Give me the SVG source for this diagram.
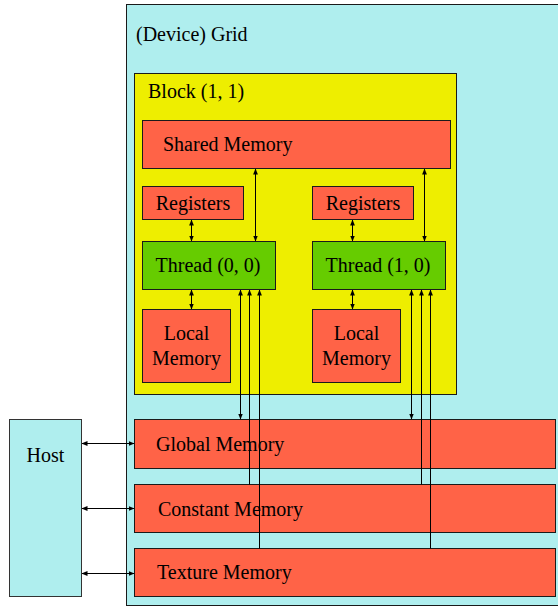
<svg xmlns="http://www.w3.org/2000/svg" width="558" height="608" viewBox="0 0 558 608">
  <style>
    .box { stroke: #1a1a1a; stroke-width: 1; }
    .grid { fill: #afeeee; }
    .block { fill: #eeee00; }
    .mem { fill: #ff6347; }
    .thr { fill: #66cc00; }
    .host { fill: #afeeee; stroke: #333; }
    text { font-family: "Liberation Serif", "Times New Roman", serif; font-size: 20px; fill: #000; }
    .c { text-anchor: middle; }
    .link { stroke: #000; stroke-width: 1; fill: none; }
  </style>
  <defs>
    <marker id="ah" viewBox="0 0 6 6" refX="5.5" refY="3" markerWidth="6" markerHeight="6" markerUnits="userSpaceOnUse" orient="auto-start-reverse">
      <path d="M0,0.6 L6,3 L0,5.4 z" fill="#000"/>
    </marker>
  </defs>

  <g id="grid">
    <rect class="box grid" x="126.5" y="4.5" width="440" height="601"/>
    <text x="136" y="41">(Device) Grid</text>
  </g>

  <g id="block">
    <rect class="box block" x="134.5" y="73.5" width="322" height="321"/>
    <text x="148" y="98">Block (1, 1)</text>
  </g>

  <g id="shared-memory">
    <rect class="box mem" x="142.5" y="120.5" width="308" height="48"/>
    <text x="163" y="151">Shared Memory</text>
  </g>

  <g id="registers-0">
    <rect class="box mem" x="142.5" y="186.5" width="101" height="33"/>
    <text class="c" x="193" y="209.5">Registers</text>
  </g>
  <g id="registers-1">
    <rect class="box mem" x="312.5" y="186.5" width="101" height="33"/>
    <text class="c" x="363" y="209.5">Registers</text>
  </g>

  <g id="thread-0">
    <rect class="box thr" x="142.5" y="241.5" width="133" height="48"/>
    <text class="c" x="208" y="272">Thread (0, 0)</text>
  </g>
  <g id="thread-1">
    <rect class="box thr" x="312.5" y="241.5" width="133" height="48"/>
    <text class="c" x="378" y="272">Thread (1, 0)</text>
  </g>

  <g id="local-memory-0">
    <rect class="box mem" x="142.5" y="309.5" width="88" height="73"/>
    <text class="c" x="186.5" y="340">Local</text>
    <text class="c" x="186.5" y="364.5">Memory</text>
  </g>
  <g id="local-memory-1">
    <rect class="box mem" x="312.5" y="309.5" width="88" height="73"/>
    <text class="c" x="356.5" y="340">Local</text>
    <text class="c" x="356.5" y="364.5">Memory</text>
  </g>

  <g id="global-memory">
    <rect class="box mem" x="134.5" y="419.5" width="421" height="49"/>
    <text x="156" y="451">Global Memory</text>
  </g>
  <g id="constant-memory">
    <rect class="box mem" x="134.5" y="484.5" width="421" height="48"/>
    <text x="158" y="515.5">Constant Memory</text>
  </g>
  <g id="texture-memory">
    <rect class="box mem" x="134.5" y="548.5" width="421" height="48"/>
    <text x="157" y="578.5">Texture Memory</text>
  </g>

  <g id="host">
    <rect class="box host" x="9.5" y="419.5" width="72" height="177"/>
    <text class="c" x="45.5" y="462">Host</text>
  </g>

  <g id="connectors">
    <!-- registers <-> thread -->
    <line class="link" x1="191.5" y1="220" x2="191.5" y2="241" marker-start="url(#ah)" marker-end="url(#ah)"/>
    <line class="link" x1="352.5" y1="220" x2="352.5" y2="241" marker-start="url(#ah)" marker-end="url(#ah)"/>
    <!-- thread <-> local memory -->
    <line class="link" x1="191.5" y1="290" x2="191.5" y2="309" marker-start="url(#ah)" marker-end="url(#ah)"/>
    <line class="link" x1="352.5" y1="290" x2="352.5" y2="309" marker-start="url(#ah)" marker-end="url(#ah)"/>
    <!-- shared memory <-> thread -->
    <line class="link" x1="255.5" y1="169" x2="255.5" y2="241" marker-start="url(#ah)" marker-end="url(#ah)"/>
    <line class="link" x1="424.5" y1="169" x2="424.5" y2="241" marker-start="url(#ah)" marker-end="url(#ah)"/>
    <!-- thread <-> global memory -->
    <line class="link" x1="240.5" y1="290" x2="240.5" y2="419" marker-start="url(#ah)" marker-end="url(#ah)"/>
    <line class="link" x1="411.5" y1="290" x2="411.5" y2="419" marker-start="url(#ah)" marker-end="url(#ah)"/>
    <!-- constant memory -> thread -->
    <line class="link" x1="249.5" y1="290" x2="249.5" y2="484.5" marker-start="url(#ah)"/>
    <line class="link" x1="421.5" y1="290" x2="421.5" y2="484.5" marker-start="url(#ah)"/>
    <!-- texture memory -> thread -->
    <line class="link" x1="259.5" y1="290" x2="259.5" y2="548.5" marker-start="url(#ah)"/>
    <line class="link" x1="430.5" y1="290" x2="430.5" y2="548.5" marker-start="url(#ah)"/>
    <!-- host <-> device memories -->
    <line class="link" x1="82" y1="443.5" x2="134" y2="443.5" marker-start="url(#ah)" marker-end="url(#ah)"/>
    <line class="link" x1="82" y1="508.5" x2="134" y2="508.5" marker-start="url(#ah)" marker-end="url(#ah)"/>
    <line class="link" x1="82" y1="573.5" x2="134" y2="573.5" marker-start="url(#ah)" marker-end="url(#ah)"/>
  </g>
</svg>
